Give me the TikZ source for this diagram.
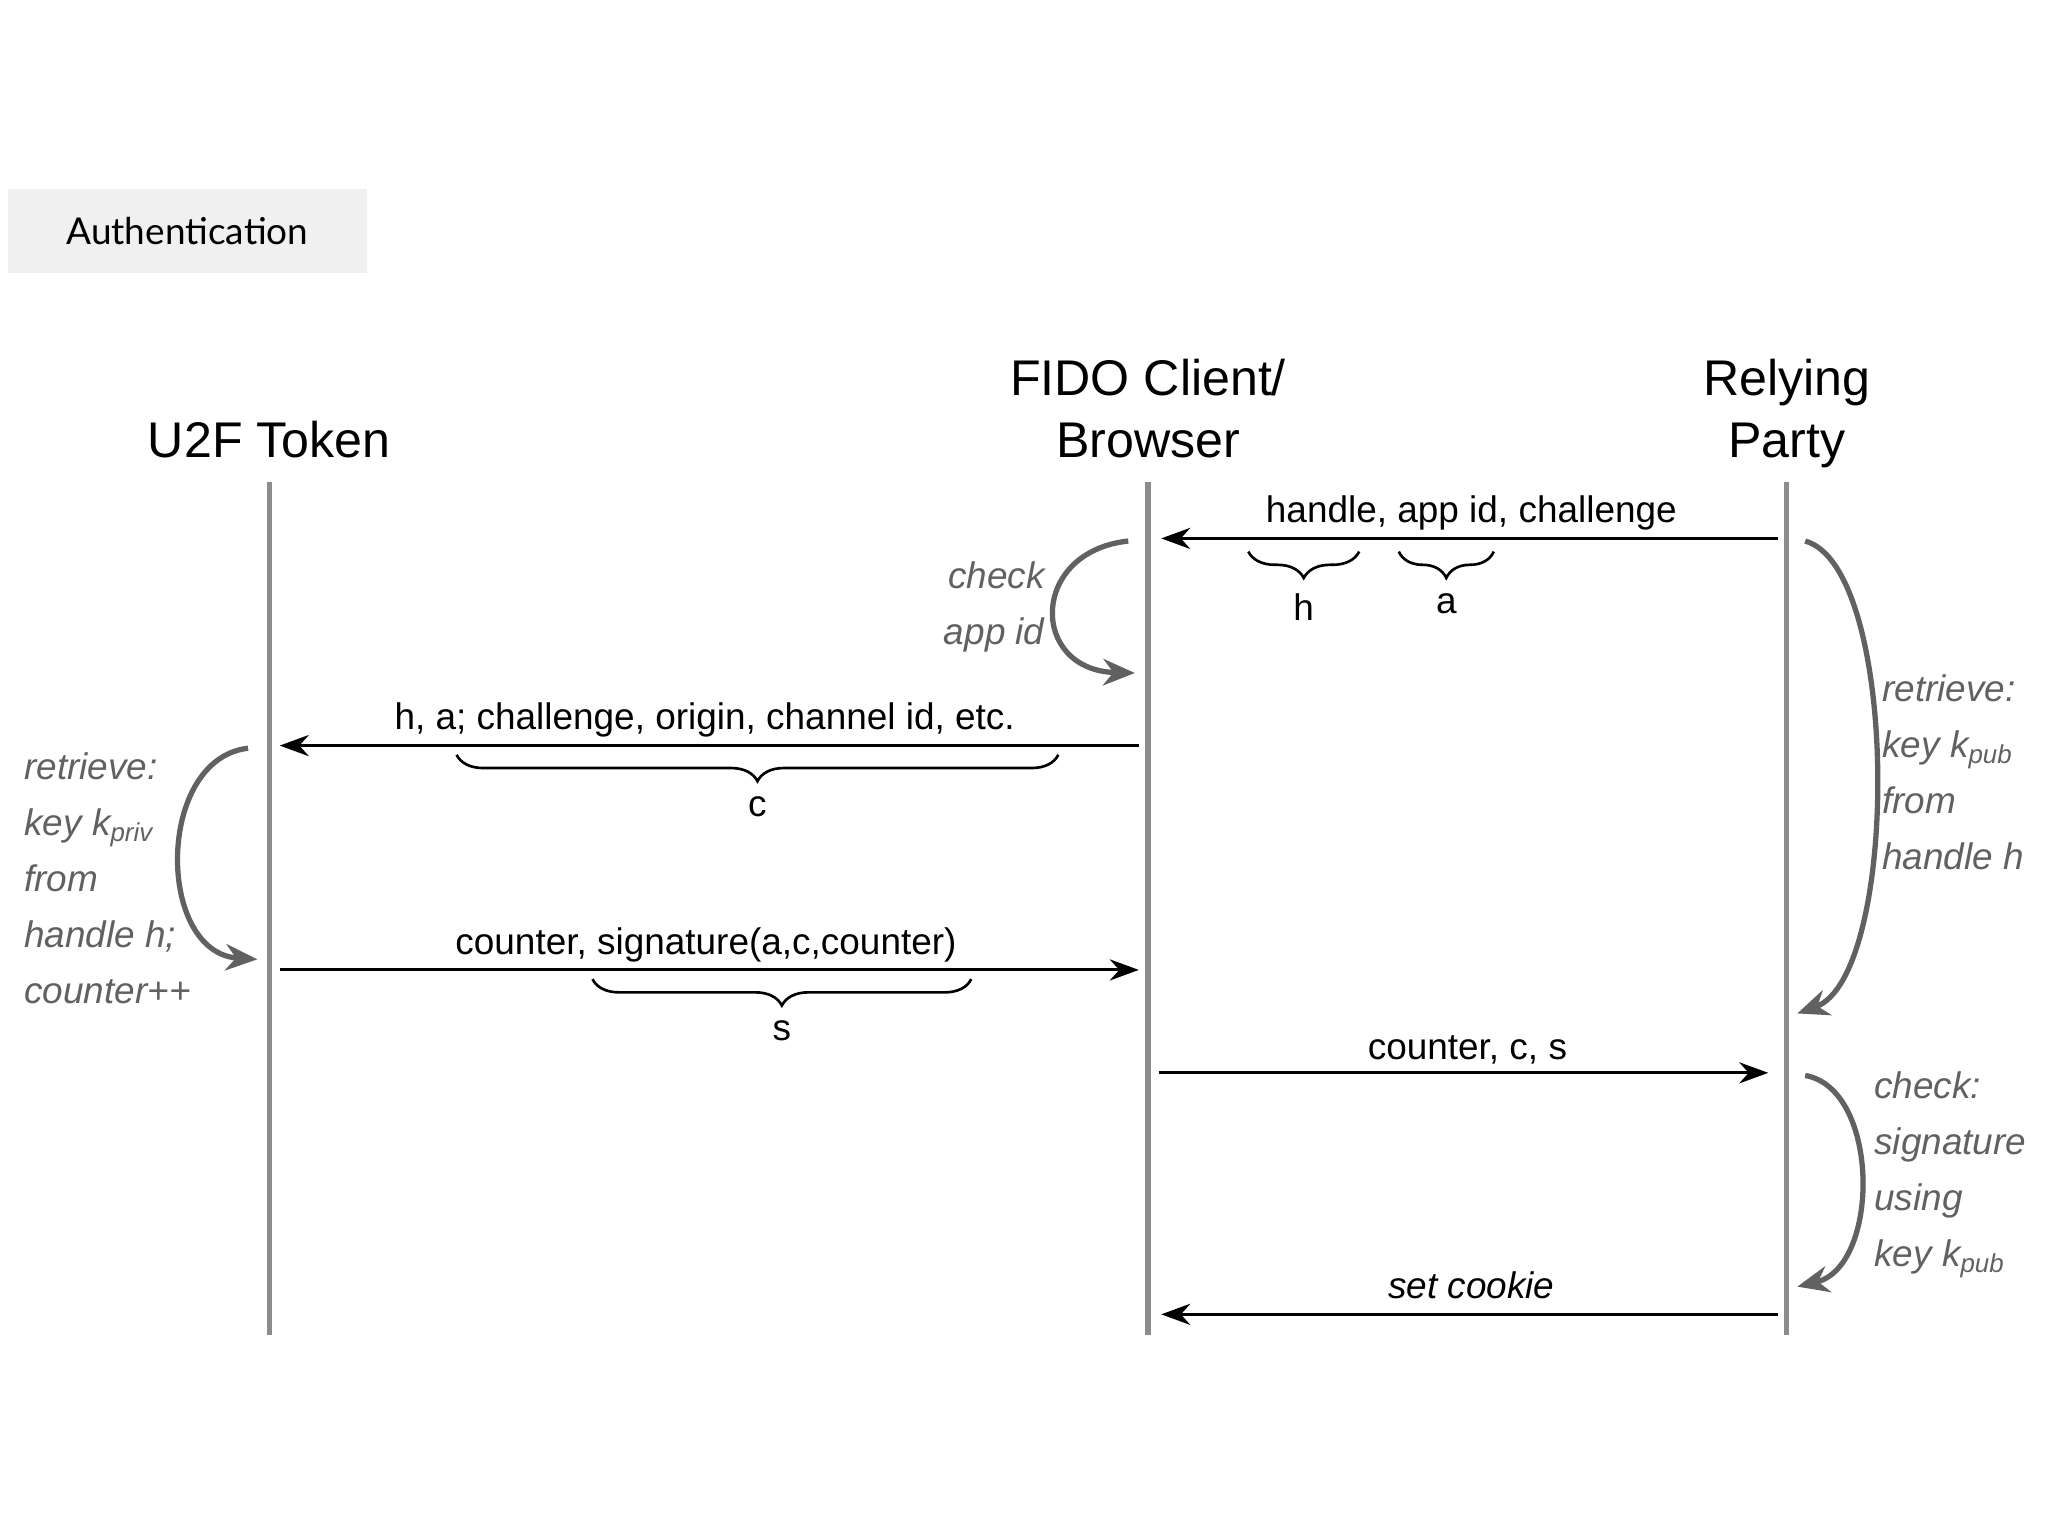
\documentclass[tikz,border=0pt]{standalone}
\usepackage{fontspec}
\setmainfont{Liberation Sans}
\newfontfamily\labfont{Lato}
\usetikzlibrary{arrows.meta,decorations.pathreplacing}
\begin{document}
\begin{tikzpicture}[x=0.5pt,y=-0.5pt,
  life/.style={line width=2pt,draw=black!45},
  msg/.style={line width=1.1pt,-{Stealth[length=11pt,width=8pt]}},
  ml/.style={font=\fontsize{14}{16}\selectfont,anchor=base},
  hd/.style={font=\fontsize{19}{24}\selectfont,align=center},
  cur/.style={line width=2pt,draw=black!62,-{Stealth[length=12pt,width=10pt]}},
  note/.style={font=\fontsize{14}{21}\selectfont\itshape,text=black!62,align=left,inner sep=0pt},
  br/.style={decorate,decoration={brace,mirror,amplitude=10pt},line width=1pt},
  bl/.style={font=\fontsize{14}{16}\selectfont}]
\useasboundingbox (0,0) rectangle (1552,1164);
\node[fill=black!6,minimum width=136pt,minimum height=31.5pt,font=\labfont\fontsize{14}{16}\selectfont] (auth) at (142,175) {Authentication};
% lifelines
\coordinate (ut) at (204,365); \coordinate (ub) at (204,1012);
\coordinate (ft) at (870,365); \coordinate (fb) at (870,1012);
\coordinate (rt) at (1354,365); \coordinate (rb) at (1354,1012);
\draw[life] (ut)--(ub); \draw[life] (ft)--(fb); \draw[life] (rt)--(rb);
\node[hd,anchor=base] (hu) at (204,347) {U2F Token};
\node[hd,anchor=base] (hf) at (870,300) {FIDO Client/};
\node[hd,anchor=base] (hf2) at (870,347) {Browser};
\node[hd,anchor=base] (hr) at (1354,300) {Relying};
\node[hd,anchor=base] (hr2) at (1354,347) {Party};
% message 1
\coordinate (m1a) at (1347,408); \coordinate (m1b) at (880,408);
\draw[msg] (m1a)--(m1b);
\node[ml] (l1) at (1115,396) {handle, app id, challenge};
\draw[br] (946,418)--(1030,418) node[midway,below=12pt,bl] (bh) {h};
\draw[br] (1060,418)--(1132,418) node[midway,below=12pt,bl] (ba) {a};
\draw[cur] (855,410) .. controls (780,418) and (780,508) .. (860,510);
\node[note,anchor=east,align=right] (n1) at (792,460) {check\\app id};
% message 2
\coordinate (m2a) at (863,565); \coordinate (m2b) at (212,565);
\draw[msg] (m2a)--(m2b);
\node[ml] (l2) at (534,553) {h, a; challenge, origin, channel id, etc.};
\draw[br] (346,572)--(802,572) node[midway,below=12pt,bl] (bc) {c};
\draw[cur] (188,567) .. controls (118,575) and (118,722) .. (195,727);
\node[note,anchor=north west,font=\fontsize{14}{21.2}\selectfont\itshape] (n2) at (18,570) {retrieve:\\key k$_{\mathit{priv}}$\\from\\handle h;\\counter++};
% message 3
\coordinate (m3a) at (212,735); \coordinate (m3b) at (863,735);
\draw[msg] (m3a)--(m3b);
\node[ml] (l3) at (535,723) {counter, signature(a,c,counter)};
\draw[br] (449,742)--(736,742) node[midway,below=12pt,bl] (bs) {s};
% right long curve
\draw[cur] (1368,410) .. controls (1440,430) and (1440,740) .. (1362,768);
\node[note,anchor=north west,font=\fontsize{14}{21.2}\selectfont\itshape] (n3) at (1426,511) {retrieve:\\key k$_{\mathit{pub}}$\\from\\handle h};
% message 4
\coordinate (m4a) at (878,813); \coordinate (m4b) at (1340,813);
\draw[msg] (m4a)--(m4b);
\node[ml] (l4) at (1112,803) {counter, c, s};
\draw[cur] (1368,815) .. controls (1425,825) and (1425,960) .. (1362,975);
\node[note,anchor=north west,font=\fontsize{14}{21.2}\selectfont\itshape] (n4) at (1420,812) {check:\\signature\\using\\key k$_{\mathit{pub}}$};
% message 5
\coordinate (m5a) at (1347,996); \coordinate (m5b) at (880,996);
\draw[msg] (m5a)--(m5b);
\node[ml,font=\fontsize{14}{16}\selectfont\itshape] (l5) at (1115,984) {set cookie};
\end{tikzpicture}
\end{document}
